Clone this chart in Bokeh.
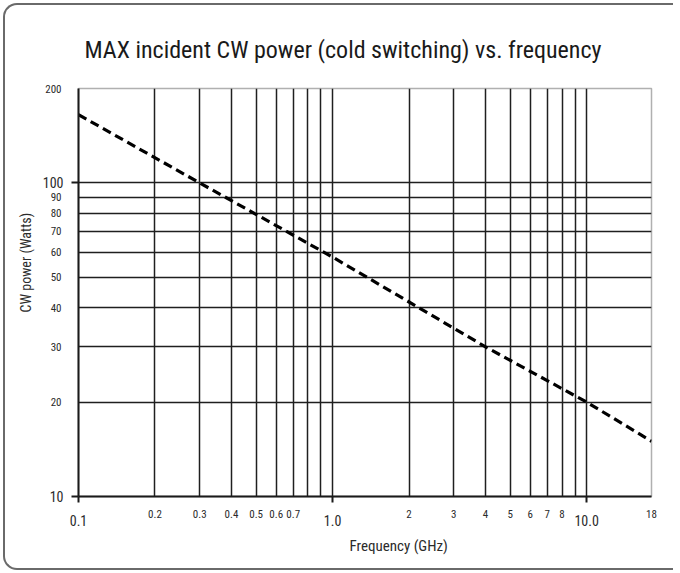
from bokeh.plotting import figure
from bokeh.models import FixedTicker, LogAxis, Title
from bokeh.embed import file_html
from bokeh.resources import INLINE

TITLE = "MAX incident CW power (cold switching) vs. frequency"
X_LABEL = "Frequency (GHz)"
Y_LABEL = "CW power (Watts)"

# dashed curve
freq_ghz = [0.1, 0.3, 1.0, 4.0, 10.0, 18.0]
power_w = [165, 100, 58, 30, 20, 15]

x_range = (0.1, 18)
y_range = (10, 200)

x_major_ticks = [0.1, 1.0, 10.0]
x_major_labels = ["0.1", "1.0", "10.0"]
x_minor_ticks = [0.2, 0.3, 0.4, 0.5, 0.6, 0.7, 2, 3, 4, 5, 6, 7, 8, 18]
x_minor_labels = ["0.2", "0.3", "0.4", "0.5", "0.6", "0.7", "2", "3", "4", "5", "6", "7", "8", "18"]
x_grid = [0.2, 0.3, 0.4, 0.5, 0.6, 0.7, 0.8, 0.9, 1.0, 2, 3, 4, 5, 6, 7, 8, 9, 10]

y_major_ticks = [10, 100]
y_major_labels = ["10", "100"]
y_minor_ticks = [20, 30, 40, 50, 60, 70, 80, 90, 200]
y_minor_labels = ["20", "30", "40", "50", "60", "70", "80", "90", "200"]
y_grid = [20, 30, 40, 50, 60, 70, 80, 90, 100]

FONT = "Roboto Condensed"
TXT = "#2b2b2b"

p = figure(x_axis_type="log", y_axis_type="log", x_range=x_range, y_range=y_range,
           frame_width=573, frame_height=408,
           min_border_left=73, min_border_top=83, min_border_right=22, min_border_bottom=72,
           output_backend="svg", toolbar_location=None)
p.border_fill_color = None
p.background_fill_color = "white"
p.outline_line_color = "#b0b0b0"
p.outline_line_width = 1.5

p.title.text = TITLE
p.title.text_font = FONT
p.title.text_font_size = "24px"
p.title.text_font_style = "normal"
p.title.text_color = "#1a1a1a"
p.title.align = "left"
p.title.offset = 6
p.title.standoff = 50

# main axes: large labels with outward ticks
for ax, ticks, labels in ((p.xaxis[0], x_major_ticks, x_major_labels), (p.yaxis[0], y_major_ticks, y_major_labels)):
    ax.ticker = FixedTicker(ticks=ticks, minor_ticks=[])
    ax.major_label_overrides = {t: l for t, l in zip(ticks, labels)}
    ax.axis_line_color = "#1a1a1a"
    ax.axis_line_width = 2
    ax.major_tick_line_color = "#1a1a1a"
    ax.major_tick_line_width = 2
    ax.major_tick_in = 0
    ax.minor_tick_in = 0
    ax.minor_tick_out = 0
    ax.major_label_text_font = FONT
    ax.major_label_text_font_size = "14px"
    ax.major_label_text_color = TXT
p.xaxis[0].major_tick_out = 6
p.yaxis[0].major_tick_out = 7
p.xaxis[0].major_label_standoff = 12
p.yaxis[0].major_label_standoff = 8

# secondary axes carrying the small tick labels, pulled back onto the main label row
x_small = LogAxis(ticker=FixedTicker(ticks=x_minor_ticks, minor_ticks=[]))
x_small.major_label_overrides = {t: l for t, l in zip(x_minor_ticks, x_minor_labels)}
x_small.major_label_standoff = -19
p.add_layout(x_small, "below")
y_small = LogAxis(ticker=FixedTicker(ticks=y_minor_ticks, minor_ticks=[]))
y_small.major_label_overrides = {t: l for t, l in zip(y_minor_ticks, y_minor_labels)}
y_small.major_label_standoff = -22
p.add_layout(y_small, "left")
for ax in (x_small, y_small):
    ax.axis_line_color = None
    ax.major_tick_line_color = None
    ax.minor_tick_line_color = None
    ax.major_tick_in = 0
    ax.major_tick_out = 0
    ax.minor_tick_in = 0
    ax.minor_tick_out = 0
    ax.major_label_text_font = FONT
    ax.major_label_text_font_size = "11px"
    ax.major_label_text_color = TXT

p.add_layout(Title(text=X_LABEL, align="left", offset=271, text_font=FONT, text_font_size="15px",
                   text_font_style="normal", text_color=TXT, standoff=12), "below")
p.add_layout(Title(text=Y_LABEL, align="left", offset=184, text_font=FONT, text_font_size="14px",
                   text_font_style="normal", text_color=TXT, standoff=12), "left")

p.xgrid.ticker = FixedTicker(ticks=x_grid, minor_ticks=[])
p.ygrid.ticker = FixedTicker(ticks=y_grid, minor_ticks=[])
for g in (p.xgrid, p.ygrid):
    g.grid_line_color = "#1f1f1f"
    g.grid_line_width = 1.5

p.line(freq_ghz, power_w, line_color="black", line_width=3.2, line_dash="9 5")

p.styles = {"border-left": "2px solid #6a6a6a", "border-top": "2px solid #6a6a6a",
            "border-bottom": "2px solid #6a6a6a", "border-radius": "14px 0 0 14px",
            "margin-left": "3px", "margin-top": "3px"}

open("out.html", "w").write(file_html(p, INLINE))
